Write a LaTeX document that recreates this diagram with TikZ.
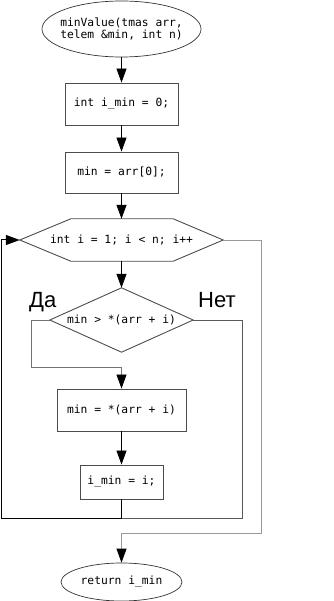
\documentclass[tikz,border=0pt]{standalone}
\usepackage{fontspec}
\setmainfont{Liberation Sans}
\setmonofont{DejaVu Sans Mono}
\usetikzlibrary{arrows.meta,calc,shapes.geometric}
\begin{document}
\begin{tikzpicture}[x=1pt,y=-1pt,
  code/.style={font=\ttfamily\fontsize{11.3}{12.5}\selectfont, inner sep=0pt},
  box/.style={code, draw=black!70, line width=0.9pt, fill=white},
  term/.style={code, draw=black!80, line width=0.7pt, ellipse, inner sep=-20pt, align=center},
  shapeline/.style={draw=black!70, line width=0.9pt},
  flow/.style={draw=black, line width=0.8pt},
  arr/.style={flow, -{Triangle[length=14pt,width=10pt,color=black]}},
  yesno/.style={font=\fontsize{22}{24}\selectfont, inner sep=0pt, anchor=base west}]
\useasboundingbox (0,0) rectangle (333,601);

\node[term, minimum width=159, minimum height=56] (start) at (121.5,29) {minValue(tmas arr,\\telem \&min, int n)};
\node[box, minimum width=113, minimum height=42] (b1) at (121.5,104) {int i\_min = 0;};
\node[box, minimum width=113, minimum height=41] (b2) at (121.5,172.5) {min = arr[0];};
\node[code, minimum width=203, minimum height=42] (loop) at (121.5,240) {int i = 1; i < n; i++};
\draw[shapeline] (loop.west) -- ($(loop.north west)+(51,0)$) -- ($(loop.north east)+(-50,0)$) -- (loop.east) -- ($(loop.south east)+(-50,0)$) -- ($(loop.south west)+(51,0)$) -- cycle;
\node[code, minimum width=143, minimum height=64] (cond) at (121.5,320) {min > *(arr + i)};
\draw[shapeline] (cond.west) -- (cond.north) -- (cond.east) -- (cond.south) -- cycle;
\node[box, minimum width=129, minimum height=42] (b3) at (121.5,410) {min = *(arr + i)};
\node[box, minimum width=83, minimum height=34] (b4) at (121.5,482) {i\_min = i;};
\node[term, minimum width=121, minimum height=38] (ret) at (121.5,582) {return i\_min};

\node[yesno] (da) at (29,307) {Да};
\node[yesno] (net) at (198,307) {Нет};

\coordinate (yL) at (31,367);
\coordinate (join) at (121.5,518);
\coordinate (lb) at (1,518);
\coordinate (nR) at (242,518);
\coordinate (eR) at (261,533);

\draw[arr] (start.south) -- (b1.north);
\draw[arr] (b1.south) -- (b2.north);
\draw[arr] (b2.south) -- (loop.north);
\draw[arr] (loop.south) -- (cond.north);
\draw[arr, draw=black!55] (cond.west) -| (yL) -| (b3.north);
\draw[arr] (b3.south) -- (b4.north);
\draw[arr, line width=1pt] (b4.south) -- (join) -- (lb) |- (loop.west);
\draw[flow, draw=black!65] (cond.east) -| (nR) -- (join);
\draw[arr, draw=black!40] (loop.east) -| (eR) -| (ret.north);
\end{tikzpicture}
\end{document}
